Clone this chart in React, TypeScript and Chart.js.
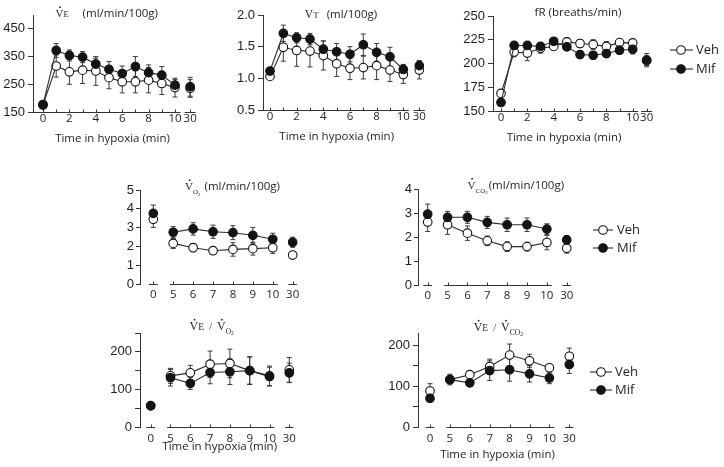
import React, { useEffect, useRef } from 'react';
import { Chart, registerables } from 'chart.js';

Chart.register(...registerables);

// ---------------- data ----------------
const SERIES_NAMES = ['Veh', 'Mif'];
const X_TITLE = 'Time in hypoxia (min)';

const TOP_TIMES = [0, 1, 2, 3, 4, 5, 6, 7, 8, 9, 10, 30];
const TOP_X_LABELS = ['0', '', '2', '', '4', '', '6', '', '8', '', '10', '30'];
const LOWER_TIMES = [0, 5, 6, 7, 8, 9, 10, 30];
const LOWER_X_LABELS = ['0', '5', '6', '7', '8', '9', '10', '30'];

// VE (ml/min/100g)
const VE_VEH = [175, 316, 295, 301, 298, 274, 259, 259, 265, 253, 238, 235];
const VE_VEH_SEM = [5, 40, 45, 48, 52, 40, 40, 40, 46, 40, 34, 32];
const VE_MIF = [177, 372, 354, 348, 323, 304, 289, 314, 292, 283, 247, 241];
const VE_MIF_SEM = [5, 25, 20, 20, 21, 28, 27, 36, 28, 31, 21, 34];
const VE_Y_TICKS = [150, 200, 250, 300, 350, 400, 450, 500];
const VE_Y_LABELS = ['150', '', '250', '', '350', '', '450', ''];

// VT (ml/100g)
const VT_VEH = [1.03, 1.49, 1.44, 1.43, 1.36, 1.23, 1.16, 1.17, 1.2, 1.13, 1.06, 1.13];
const VT_VEH_SEM = [0.02, 0.22, 0.25, 0.25, 0.23, 0.2, 0.18, 0.18, 0.22, 0.18, 0.14, 0.14];
const VT_MIF = [1.115, 1.71, 1.64, 1.62, 1.46, 1.42, 1.38, 1.53, 1.41, 1.34, 1.14, 1.2];
const VT_MIF_SEM = [0.02, 0.13, 0.08, 0.09, 0.13, 0.13, 0.12, 0.17, 0.14, 0.15, 0.08, 0.08];
const VT_Y_TICKS = [0.5, 0.75, 1, 1.25, 1.5, 1.75, 2];
const VT_Y_LABELS = ['0.5', '', '1.0', '', '1.5', '', '2.0'];

// fR (breaths/min)
const FR_VEH = [168.5, 212, 211, 216, 218, 222.7, 221, 220, 218, 222, 221.7, 203];
const FR_VEH_SEM = [3, 5, 8, 5, 4, 4, 4, 5, 5, 3, 3, 5];
const FR_MIF = [159, 219, 219, 218, 223.4, 217.5, 209.4, 208.7, 210.5, 214, 215, 203.5];
const FR_MIF_SEM = [3, 3, 3, 4, 3, 3, 4, 4, 4, 4, 5, 7];
const FR_Y_TICKS = [150, 175, 200, 225, 250];
const FR_Y_LABELS = ['150', '175', '200', '225', '250'];

// VO2 (ml/min/100g)
const VO2_VEH = [3.44, 2.16, 1.93, 1.77, 1.84, 1.88, 1.93, 1.54];
const VO2_VEH_SEM = [0.43, 0.27, 0.21, 0.15, 0.36, 0.34, 0.3, 0.05];
const VO2_MIF = [3.76, 2.75, 2.93, 2.78, 2.73, 2.59, 2.38, 2.22];
const VO2_MIF_SEM = [0.44, 0.3, 0.33, 0.35, 0.37, 0.41, 0.32, 0.27];
const VO2_Y_TICKS = [0, 1, 2, 3, 4, 5];
const VO2_Y_LABELS = ['0', '1', '2', '3', '4', '5'];

// VCO2 (ml/min/100g)
const VCO2_VEH = [2.62, 2.51, 2.16, 1.84, 1.6, 1.6, 1.77, 1.53];
const VCO2_VEH_SEM = [0.39, 0.4, 0.3, 0.2, 0.2, 0.18, 0.3, 0.2];
const VCO2_MIF = [2.95, 2.82, 2.82, 2.61, 2.51, 2.51, 2.33, 1.88];
const VCO2_MIF_SEM = [0.42, 0.25, 0.25, 0.25, 0.28, 0.28, 0.22, 0.17];
const VCO2_Y_TICKS = [0, 1, 2, 3, 4];
const VCO2_Y_LABELS = ['0', '1', '2', '3', '4'];

// VE / VO2
const VEVO2_VEH = [57, 136, 144, 167, 169, 150, 136, 152];
const VEVO2_VEH_SEM = [4, 20, 20, 35, 38, 37, 26, 33];
const VEVO2_MIF = [56, 131, 116, 145, 147, 150, 134, 144];
const VEVO2_MIF_SEM = [4, 22, 16, 30, 34, 36, 25, 26];
const VEVO2_Y_TICKS = [0, 50, 100, 150, 200, 250];
const VEVO2_Y_LABELS = ['0', '', '100', '', '200', ''];

// VE / VCO2
const VEVCO2_VEH = [88, 116, 128, 148, 176, 162, 145, 173];
const VEVCO2_VEH_SEM = [18, 8, 5, 18, 27, 16, 5, 20];
const VEVCO2_MIF = [70, 116, 108, 138, 140, 130, 120, 153];
const VEVCO2_MIF_SEM = [7, 13, 5, 24, 28, 20, 14, 22];
const VEVCO2_Y_TICKS = [0, 50, 100, 150, 200];
const VEVCO2_Y_LABELS = ['0', '', '100', '', '200'];

// ---------------- style ----------------
const W = 724;
const H = 467;
const Y_BOX = 30;
const X_BOX = 22;
const LINE = '#2a2a2a';
const AXIS = '#333';
const TEXT = '#1e1e1e';
const ERR = '#3a3a3a';
const SANS_FAMILY = '"Open Sans", "Noto Sans", sans-serif';
const ARIAL_FAMILY = '"Liberation Sans", Arial, sans-serif';
const serif = (px: number) => `${px}px "Liberation Serif", "DejaVu Serif", serif`;
const sans = (px: number) => `${px}px ${SANS_FAMILY}`;

type Seg = { t: string; font: string; dy?: number; dot?: boolean; gap?: number };

interface PanelCfg {
  times: number[];
  xLabels: string[];
  xPos: number[];
  veh: number[]; vehErr: number[]; mif: number[]; mifErr: number[];
  yTicks: number[]; yLabels: string[]; yMin: number; yMax: number;
  axisX: number; x0px: number; unitPx: number; topPx: number; bottomPx: number;
  lastPos: number;
  axisSegs: (min: number) => [number, number][];
  lower: boolean;
  yTickLen: number; yPad: number; xPad: number;
  title: Seg[]; titleX: number; titleY: number;
  xTitle?: { x: number; y: number };
  legend?: { x1: number; x2: number; cx: number; tx: number; ys: number[] };
}

const topPos = (bp: number) => TOP_TIMES.map((t) => (t <= 10 ? t : bp));
const lowerPos = () => LOWER_TIMES.map((_, i) => i);

const topSegs = (bp: number) => (min: number): [number, number][] => [
  [min, 10.42],
  [bp - 0.42, bp + 0.42],
];
const lowerSegs = () => (): [number, number][] => [
  [-0.22, 0.22],
  [0.83, 6.25],
  [6.79, 7.21],
];

const V_DOT = (gap = 0, size = 11): Seg => ({ t: 'V', font: serif(size), dot: true, gap });

const PANELS: PanelCfg[] = [
  {
    times: TOP_TIMES, xLabels: TOP_X_LABELS, xPos: topPos(11.15),
    veh: VE_VEH, vehErr: VE_VEH_SEM, mif: VE_MIF, mifErr: VE_MIF_SEM,
    yTicks: VE_Y_TICKS, yLabels: VE_Y_LABELS, yMin: 150, yMax: 500,
    axisX: 33, x0px: 43, unitPx: 13.2, topPx: 15, bottomPx: 112, lastPos: 11.15,
    axisSegs: topSegs(11.15), lower: false, yTickLen: 5, yPad: 3, xPad: 0,
    title: [V_DOT(), { t: 'E', font: serif(8.5) }, { t: '(ml/min/100g)', font: sans(11.5), gap: 14 }],
    titleX: 106.7, titleY: 17,
    xTitle: { x: 112.5, y: 141.5 },
  },
  {
    times: TOP_TIMES, xLabels: TOP_X_LABELS, xPos: topPos(11.2),
    veh: VT_VEH, vehErr: VT_VEH_SEM, mif: VT_MIF, mifErr: VT_MIF_SEM,
    yTicks: VT_Y_TICKS, yLabels: VT_Y_LABELS, yMin: 0.5, yMax: 2,
    axisX: 263, x0px: 270, unitPx: 13.33, topPx: 15, bottomPx: 110, lastPos: 11.2,
    axisSegs: topSegs(11.2), lower: false, yTickLen: 5, yPad: 3, xPad: 0,
    title: [{ t: 'V', font: serif(11.5) }, { t: 'T', font: serif(9) }, { t: '(ml/100g)', font: sans(11.5), gap: 8 }],
    titleX: 341, titleY: 18,
    xTitle: { x: 336.7, y: 139.5 },
  },
  {
    times: TOP_TIMES, xLabels: TOP_X_LABELS, xPos: topPos(11.06),
    veh: FR_VEH, vehErr: FR_VEH_SEM, mif: FR_MIF, mifErr: FR_MIF_SEM,
    yTicks: FR_Y_TICKS, yLabels: FR_Y_LABELS, yMin: 150, yMax: 250,
    axisX: 493, x0px: 501, unitPx: 13.17, topPx: 16, bottomPx: 111, lastPos: 11.06,
    axisSegs: topSegs(11.06), lower: false, yTickLen: 5, yPad: 3, xPad: 0,
    title: [{ t: 'fR (breaths/min)', font: sans(11.5) }],
    titleX: 578, titleY: 15.5,
    xTitle: { x: 564, y: 141 },
    legend: { x1: 670, x2: 693, cx: 681, tx: 696, ys: [50, 69] },
  },
  {
    times: LOWER_TIMES, xLabels: LOWER_X_LABELS, xPos: lowerPos(),
    veh: VO2_VEH, vehErr: VO2_VEH_SEM, mif: VO2_MIF, mifErr: VO2_MIF_SEM,
    yTicks: VO2_Y_TICKS, yLabels: VO2_Y_LABELS, yMin: 0, yMax: 5,
    axisX: 140, x0px: 153.3, unitPx: 19.91, topPx: 190, bottomPx: 284, lastPos: 7,
    axisSegs: lowerSegs(), lower: true, yTickLen: 4, yPad: 2, xPad: 4,
    title: [V_DOT(), { t: 'O', font: serif(7), dy: 4 }, { t: '2', font: serif(5), dy: 5.5 }, { t: '(ml/min/100g)', font: sans(11.5), gap: 4 }],
    titleX: 232.5, titleY: 190,
  },
  {
    times: LOWER_TIMES, xLabels: LOWER_X_LABELS, xPos: lowerPos(),
    veh: VCO2_VEH, vehErr: VCO2_VEH_SEM, mif: VCO2_MIF, mifErr: VCO2_MIF_SEM,
    yTicks: VCO2_Y_TICKS, yLabels: VCO2_Y_LABELS, yMin: 0, yMax: 4,
    axisX: 418, x0px: 427.7, unitPx: 19.86, topPx: 189, bottomPx: 285, lastPos: 7,
    axisSegs: lowerSegs(), lower: true, yTickLen: 4, yPad: 2, xPad: 4,
    title: [V_DOT(), { t: 'CO', font: serif(7), dy: 4 }, { t: '2', font: serif(5), dy: 5.5 }, { t: '(ml/min/100g)', font: sans(11.5), gap: 1 }],
    titleX: 515.8, titleY: 188.5,
    legend: { x1: 593, x2: 613, cx: 603, tx: 617, ys: [230, 248] },
  },
  {
    times: LOWER_TIMES, xLabels: LOWER_X_LABELS, xPos: lowerPos(),
    veh: VEVO2_VEH, vehErr: VEVO2_VEH_SEM, mif: VEVO2_MIF, mifErr: VEVO2_MIF_SEM,
    yTicks: VEVO2_Y_TICKS, yLabels: VEVO2_Y_LABELS, yMin: 0, yMax: 250,
    axisX: 140, x0px: 150.7, unitPx: 19.8, topPx: 333, bottomPx: 427, lastPos: 7,
    axisSegs: lowerSegs(), lower: true, yTickLen: 5, yPad: 3, xPad: 5,
    title: [V_DOT(0, 12), { t: 'E', font: serif(9.5) }, { t: '/', font: serif(10.5), gap: 5 }, V_DOT(5, 12), { t: 'O', font: serif(7.5), dy: 4 }, { t: '2', font: serif(5.5), dy: 5.5 }],
    titleX: 211.7, titleY: 329.5,
    xTitle: { x: 219.7, y: 450 },
  },
  {
    times: LOWER_TIMES, xLabels: LOWER_X_LABELS, xPos: lowerPos(),
    veh: VEVCO2_VEH, vehErr: VEVCO2_VEH_SEM, mif: VEVCO2_MIF, mifErr: VEVCO2_MIF_SEM,
    yTicks: VEVCO2_Y_TICKS, yLabels: VEVCO2_Y_LABELS, yMin: 0, yMax: 230,
    axisX: 418, x0px: 430, unitPx: 19.9, topPx: 333, bottomPx: 427, lastPos: 7,
    axisSegs: lowerSegs(), lower: true, yTickLen: 5, yPad: 3, xPad: 5,
    title: [V_DOT(0, 12), { t: 'E', font: serif(9.5) }, { t: '/', font: serif(10.5), gap: 5 }, V_DOT(5, 12), { t: 'CO', font: serif(7.5), dy: 4 }, { t: '2', font: serif(5.5), dy: 5.5 }],
    titleX: 498.3, titleY: 330.5,
    xTitle: { x: 497.5, y: 457.5 },
    legend: { x1: 590, x2: 612, cx: 601, tx: 615, ys: [372, 390] },
  },
];

function drawRich(ctx: CanvasRenderingContext2D, segs: Seg[], cx: number, baseY: number) {
  ctx.save();
  ctx.textBaseline = 'alphabetic';
  ctx.textAlign = 'left';
  ctx.fillStyle = TEXT;
  let total = 0;
  const widths = segs.map((s) => {
    ctx.font = s.font;
    const w = ctx.measureText(s.t).width;
    total += w + (s.gap || 0);
    return w;
  });
  let x = cx - total / 2;
  segs.forEach((s, i) => {
    x += s.gap || 0;
    ctx.font = s.font;
    const y = baseY + (s.dy || 0);
    ctx.fillText(s.t, x, y);
    if (s.dot) {
      ctx.beginPath();
      ctx.arc(x + widths[i] / 2 + 0.6, y - 9.8, 0.9, 0, Math.PI * 2);
      ctx.fill();
    }
    x += widths[i];
  });
  ctx.restore();
}

function makeDeco(cfg: PanelCfg) {
  return {
    id: 'deco',
    beforeDatasetsDraw(chart: any) {
      const ctx = chart.ctx as CanvasRenderingContext2D;
      const xs = chart.scales.x;
      const ys = chart.scales.y;
      ctx.save();
      ctx.strokeStyle = ERR;
      ctx.lineWidth = 1;
      const cap = 2.5;
      chart.data.datasets.forEach((ds: any) => {
        ds.data.forEach((p: any, i: number) => {
          const e = ds.errors[i];
          if (!e) return;
          const x = xs.getPixelForValue(p.x);
          const yT = ys.getPixelForValue(p.y + e);
          const yB = ys.getPixelForValue(p.y - e);
          ctx.beginPath();
          ctx.moveTo(x, yT);
          ctx.lineTo(x, yB);
          ctx.moveTo(x - cap, yT);
          ctx.lineTo(x + cap, yT);
          ctx.moveTo(x - cap, yB);
          ctx.lineTo(x + cap, yB);
          ctx.stroke();
        });
      });
      ctx.restore();
    },
    afterDraw(chart: any) {
      const ctx = chart.ctx as CanvasRenderingContext2D;
      const xs = chart.scales.x;
      const ys = chart.scales.y;
      const y0 = Math.round(ys.getPixelForValue(cfg.yMin)) + 0.5;
      ctx.save();
      ctx.strokeStyle = AXIS;
      ctx.lineWidth = 1;
      ctx.beginPath();
      cfg.axisSegs(xs.min).forEach(([a, b]) => {
        ctx.moveTo(xs.getPixelForValue(a) - (a === xs.min ? 0.5 : 0), y0);
        ctx.lineTo(xs.getPixelForValue(b), y0);
      });
      cfg.xPos.forEach((p) => {
        const x = Math.round(xs.getPixelForValue(p)) + 0.5;
        ctx.moveTo(x, y0);
        ctx.lineTo(x, y0 - 3);
      });
      ctx.stroke();
      ctx.restore();

      drawRich(ctx, cfg.title, cfg.titleX, cfg.titleY);

      if (cfg.xTitle) {
        ctx.save();
        ctx.font = sans(11.5);
        ctx.fillStyle = TEXT;
        ctx.textAlign = 'center';
        ctx.textBaseline = 'alphabetic';
        ctx.fillText(X_TITLE, cfg.xTitle.x, cfg.xTitle.y);
        ctx.restore();
      }

      if (cfg.legend) {
        const lg = cfg.legend;
        chart.data.datasets.forEach((ds: any, i: number) => {
          const y = lg.ys[i];
          ctx.save();
          ctx.strokeStyle = LINE;
          ctx.lineWidth = 1.1;
          ctx.beginPath();
          ctx.moveTo(lg.x1, y);
          ctx.lineTo(lg.x2, y);
          ctx.stroke();
          ctx.beginPath();
          ctx.arc(lg.cx, y, 4.3, 0, Math.PI * 2);
          ctx.fillStyle = ds.pointBackgroundColor;
          ctx.fill();
          ctx.strokeStyle = '#111';
          ctx.stroke();
          ctx.font = sans(13);
          ctx.fillStyle = TEXT;
          ctx.textAlign = 'left';
          ctx.textBaseline = 'middle';
          ctx.fillText(ds.label, lg.tx, y + 0.5);
          ctx.restore();
        });
      }
    },
  };
}

function buildChart(canvas: HTMLCanvasElement, cfg: PanelCfg) {
  const rightPx = cfg.x0px + cfg.unitPx * (cfg.lastPos + 0.6);
  const xMin = -(cfg.x0px - cfg.axisX) / cfg.unitPx;
  const xMax = cfg.lastPos + 0.6;
  const isBreak = (i0: number, i1: number) =>
    cfg.times[i1] === 30 || (cfg.lower && cfg.times[i0] === 0);
  const mkDs = (label: string, vals: number[], errs: number[], fillColor: string, order: number) => ({
    label,
    data: vals.map((v, i) => ({ x: cfg.xPos[i], y: v })),
    errors: errs,
    order,
    borderColor: LINE,
    borderWidth: 1.1,
    pointRadius: 4.3,
    pointHoverRadius: 4.3,
    pointBackgroundColor: fillColor,
    pointBorderColor: '#111',
    pointBorderWidth: 1.1,
    tension: 0,
    fill: false,
    clip: false,
    segment: {
      borderColor: (c: any) => (isBreak(c.p0DataIndex, c.p1DataIndex) ? 'rgba(0,0,0,0)' : LINE),
    },
  });
  return new Chart(canvas, {
    type: 'line',
    data: {
      datasets: [
        mkDs(SERIES_NAMES[0], cfg.veh, cfg.vehErr, '#ffffff', 2),
        mkDs(SERIES_NAMES[1], cfg.mif, cfg.mifErr, '#141414', 1),
      ] as any,
    },
    options: {
      responsive: false,
      animation: false,
      devicePixelRatio: 1,
      events: [],
      layout: {
        padding: {
          left: cfg.axisX - Y_BOX,
          top: cfg.topPx,
          right: W - rightPx,
          bottom: H - cfg.bottomPx - X_BOX,
        },
      },
      plugins: { legend: { display: false }, title: { display: false }, tooltip: { enabled: false } },
      scales: {
        x: {
          type: 'linear',
          position: 'bottom',
          min: xMin,
          max: xMax,
          border: { display: false },
          grid: { display: false, drawTicks: false },
          ticks: {
            autoSkip: false,
            maxRotation: 0,
            minRotation: 0,
            padding: cfg.xPad,
            color: TEXT,
            font: { family: SANS_FAMILY, size: 11.5 },
            callback: (_v: any, i: number) => cfg.xLabels[i],
          },
          afterBuildTicks: (s: any) => {
            s.ticks = cfg.xPos.map((v) => ({ value: v }));
          },
          afterFit: (s: any) => {
            s.height = X_BOX;
          },
        },
        y: {
          type: 'linear',
          position: 'left',
          min: cfg.yMin,
          max: cfg.yMax,
          border: { display: true, color: AXIS, width: 1 },
          grid: { display: true, drawOnChartArea: false, drawTicks: true, tickLength: cfg.yTickLen, color: AXIS, lineWidth: 1 },
          ticks: {
            padding: cfg.yPad,
            color: TEXT,
            font: { family: ARIAL_FAMILY, size: 13 },
            callback: (_v: any, i: number) => cfg.yLabels[i],
          },
          afterBuildTicks: (s: any) => {
            s.ticks = cfg.yTicks.map((v) => ({ value: v }));
          },
          afterFit: (s: any) => {
            s.width = Y_BOX;
          },
        },
      },
    } as any,
    plugins: [makeDeco(cfg)],
  });
}

export default function App() {
  const refs = useRef<(HTMLCanvasElement | null)[]>([]);
  useEffect(() => {
    const charts = PANELS.map((cfg, i) => buildChart(refs.current[i] as HTMLCanvasElement, cfg));
    return () => charts.forEach((c) => c.destroy());
  }, []);
  return (
    <div style={{ position: 'fixed', left: 0, top: 0, width: W, height: H, background: '#fff' }}>
      {PANELS.map((_, i) => (
        <canvas
          key={i}
          ref={(el) => {
            refs.current[i] = el;
          }}
          width={W}
          height={H}
          style={{ position: 'absolute', left: 0, top: 0, width: W, height: H }}
        />
      ))}
    </div>
  );
}
